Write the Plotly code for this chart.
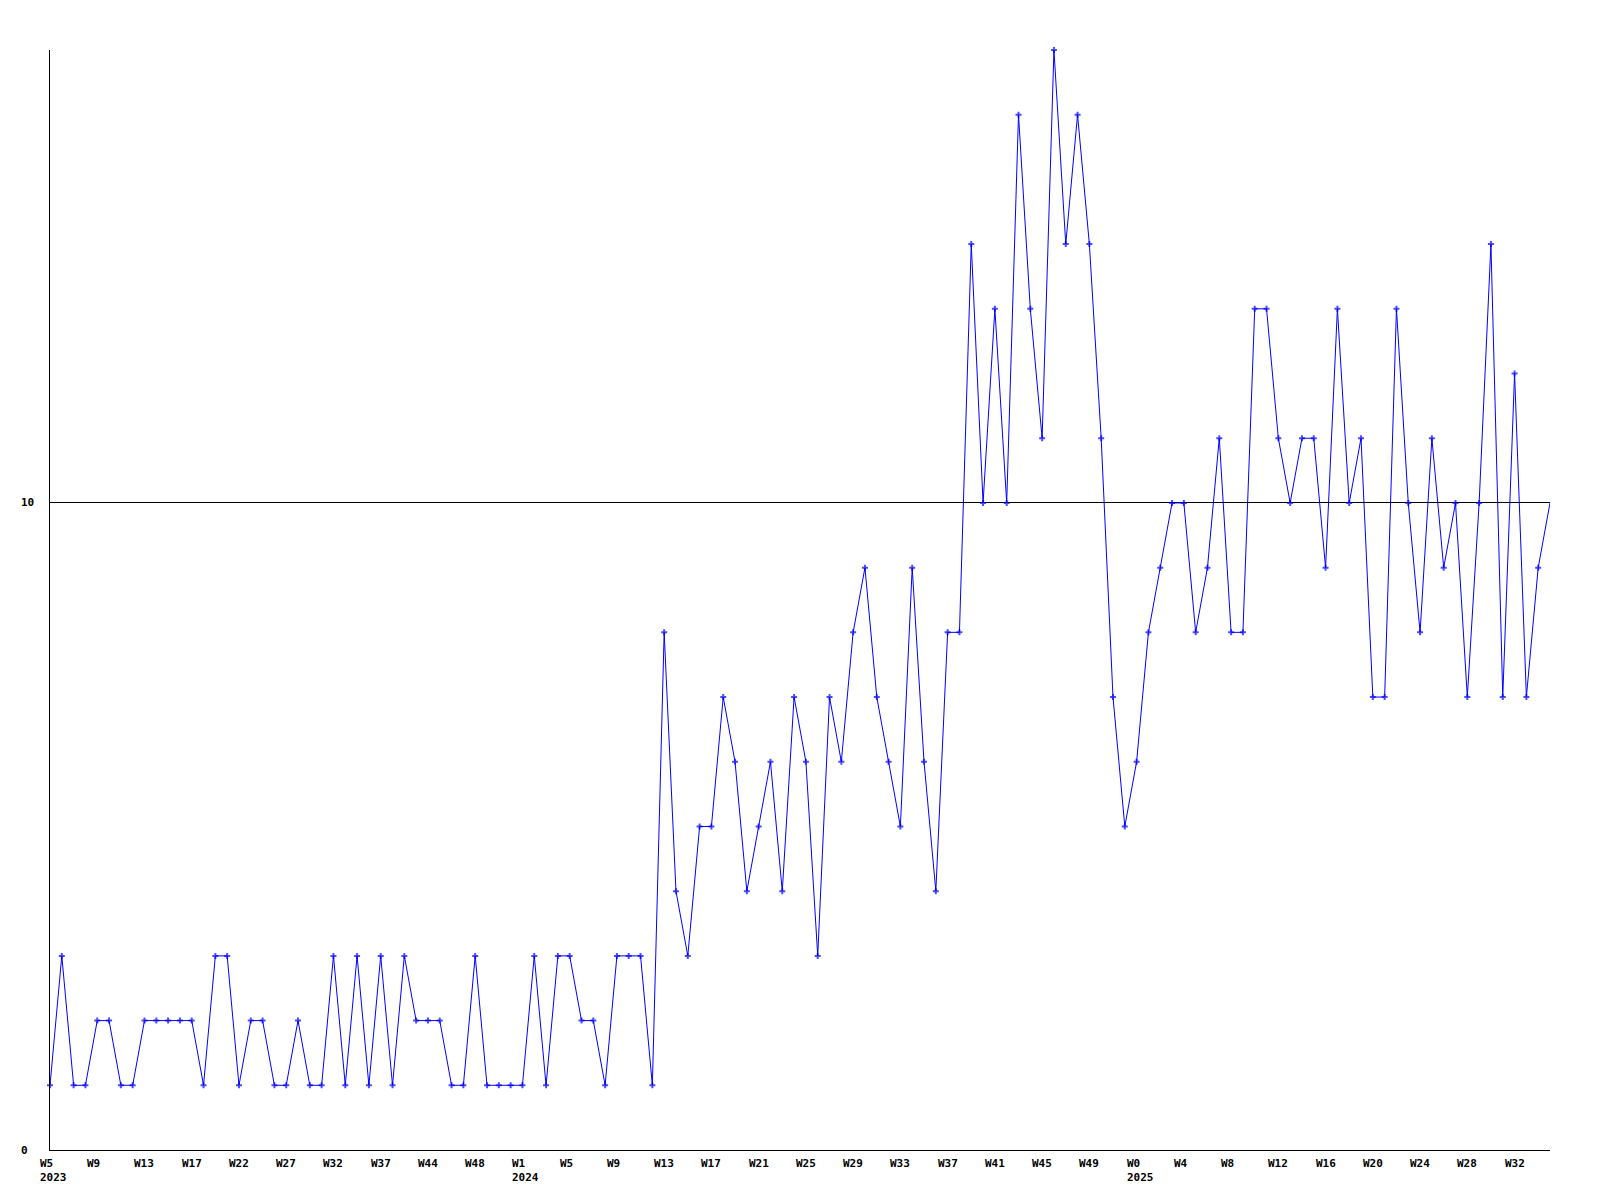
import plotly.graph_objects as go

# Weekly values (one point per period)
values = [
    1, 3, 1, 1, 2, 2, 1, 1, 2, 2, 2, 2, 2, 1, 3, 3, 1, 2, 2, 1,
    1, 2, 1, 1, 3, 1, 3, 1, 3, 1, 3, 2, 2, 2, 1, 1, 3, 1, 1, 1,
    1, 3, 1, 3, 3, 2, 2, 1, 3, 3, 3, 1, 8, 4, 3, 5, 5, 7, 6, 4,
    5, 6, 4, 7, 6, 3, 7, 6, 8, 9, 7, 6, 5, 9, 6, 4, 8, 8, 14, 10,
    13, 10, 16, 13, 11, 17, 14, 16, 14, 11, 7, 5, 6, 8, 9, 10, 10, 8, 9, 11,
    8, 8, 13, 13, 11, 10, 11, 11, 9, 13, 10, 11, 7, 7, 13, 10, 8, 11, 9, 10,
    7, 10, 14, 7, 12, 7, 9, 10,
]

# Tick labels, one every 4 points
week_labels = [
    "W5", "W9", "W13", "W17", "W22", "W27", "W32", "W37", "W44", "W48",
    "W1", "W5", "W9", "W13", "W17", "W21", "W25", "W29", "W33", "W37",
    "W41", "W45", "W49",
    "W0", "W4", "W8", "W12", "W16", "W20", "W24", "W28", "W32",
]
year_labels = {0: "2023", 10: "2024", 23: "2025"}
label_step = 4

y_ticks = [0, 10]

n = len(values)
xs = list(range(n))
marker_sizes = [5] * (n - 1) + [0]

fig = go.Figure()
fig.add_trace(go.Scatter(
    x=xs, y=values, mode="lines+markers",
    line=dict(color="#0000ff", width=1),
    marker=dict(symbol="cross", size=marker_sizes, color="#0000ff", line=dict(width=0)),
    cliponaxis=False,
    showlegend=False,
))

FONT = "DejaVu Sans Mono"
annotations = []
for i, lab in enumerate(week_labels):
    txt = "<b>" + lab + "</b>"
    if i in year_labels:
        txt += "<br><b>" + year_labels[i] + "</b>"
    annotations.append(dict(
        x=i * label_step, y=0, xref="x", yref="paper",
        text=txt, showarrow=False, xanchor="left", yanchor="top",
        align="left", xshift=-12, yshift=-5,
        font=dict(family=FONT, size=11, color="black"),
    ))
for v in y_ticks:
    annotations.append(dict(
        x=0, y=v, xref="paper", yref="y",
        text="<b>" + str(v) + "</b>", showarrow=False,
        xanchor="left", yanchor="middle", xshift=-31,
        font=dict(family=FONT, size=11, color="black"),
    ))

fig.update_layout(
    width=1592, height=1192,
    margin=dict(l=42, r=50, t=42, b=50),
    paper_bgcolor="white", plot_bgcolor="white",
    annotations=annotations,
    xaxis=dict(
        range=[0, n - 1], showgrid=False, zeroline=False,
        showline=True, linecolor="black", linewidth=1,
        showticklabels=False, ticks="",
    ),
    yaxis=dict(
        range=[0, 17], tickvals=y_ticks, showticklabels=False,
        showgrid=True, gridcolor="black", gridwidth=1,
        zeroline=False, showline=True, linecolor="black", linewidth=1,
        ticks="",
    ),
)

fig.write_html("out.html")
